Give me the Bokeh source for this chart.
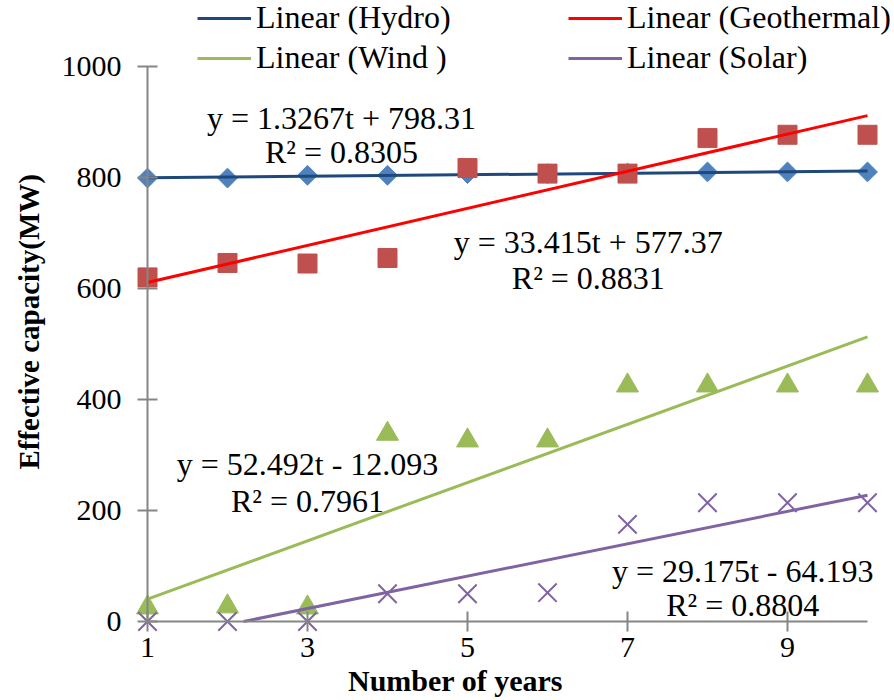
import math
from bokeh.plotting import figure
from bokeh.models import Range1d, FixedTicker, Legend, LegendItem, Label
from bokeh.embed import file_html
from bokeh.resources import INLINE

# ---- data ----
years = [1, 2, 3, 4, 5, 6, 7, 8, 9, 10]
hydro = [799, 799, 804, 804, 807, 807, 808, 810, 810, 810]
geothermal = [620, 646, 645, 655, 817, 807, 807, 871, 877, 877]
wind = [25, 27, 25, 338, 326, 326, 425, 425, 425, 425]
solar = [0, 0, 0, 50, 50, 52, 175, 214, 214, 214]

# trendline coefficients (y = a t + b) and R^2 as printed on the chart
trend_a = [1.3267, 33.415, 52.492, 29.175]
trend_b = [798.31, 577.37, -12.093, -64.193]
eq_text = ["y = 1.3267t + 798.31", "y = 33.415t + 577.37",
           "y = 52.492t - 12.093", "y = 29.175t - 64.193"]
r2_text = ["R² = 0.8305", "R² = 0.8831", "R² = 0.7961", "R² = 0.8804"]
legend_labels = ["Linear (Hydro)", "Linear (Geothermal)", "Linear (Wind )", "Linear (Solar)"]
x_ticks = [1, 3, 5, 7, 9]
y_ticks = [0, 200, 400, 600, 800, 1000]

FONT = "Liberation Serif"
AXIS_GRAY = "#868686"

# frame spans the whole canvas; axes are pinned at t=1 and y=0
p = figure(width=894, height=700, output_backend="svg", toolbar_location=None,
           x_range=Range1d(-0.8375, 10.3375), y_range=Range1d(-142.34, 1118.92),
           min_border_left=0, min_border_right=0, min_border_top=0, min_border_bottom=0)
p.outline_line_color = None
p.grid.visible = False
p.background_fill_color = "white"

for ax, ticks, loc, bnds, standoff in [(p.xaxis, x_ticks, 0, (1, 10), 6),
                                       (p.yaxis, y_ticks, 1, (0, 1000), 16)]:
    ax.ticker = FixedTicker(ticks=ticks)
    ax.fixed_location = loc
    ax.bounds = bnds
    ax.axis_line_color = AXIS_GRAY
    ax.axis_line_width = 2
    ax.major_tick_line_color = AXIS_GRAY
    ax.major_tick_line_width = 2
    ax.major_tick_in = 10
    ax.major_tick_out = 10
    ax.minor_tick_line_color = None
    ax.major_label_text_font = FONT
    ax.major_label_text_font_size = "30px"
    ax.major_label_text_color = "black"
    ax.major_label_standoff = standoff

series = [hydro, geothermal, wind, solar]
marker_kw = [
    dict(marker="square", size=14, angle=math.pi / 4, color="#4F81BD"),
    dict(marker="square", size=19, color="#C0504D"),
    dict(marker="triangle", size=22, color="#9BBB59"),
    dict(marker="x", size=26, line_color="#8064A2", line_width=2),
]
trend_colors = ["#1F497D", "#FF0000", "#9BBB59", "#8064A2"]
trend_renderers = []
for vals, mk, col, a, b in zip(series, marker_kw, trend_colors, trend_a, trend_b):
    p.scatter(years, vals, **mk)
    t0 = years[0]
    if a * t0 + b < 0:
        t0 = -b / a
    t1 = years[-1]
    r = p.line([t0, t1], [a * t0 + b, a * t1 + b], line_color=col, line_width=3)
    trend_renderers.append(r)

# equation labels (centre positions in data units)
eq_pos = [(3.425, 908.1, 846.8), (6.51, 682.9, 619.8), (3.0, 282.9, 218.0), (8.44, 90.1, 30.6)]
for (x, y1, y2), e, r2 in zip(eq_pos, eq_text, r2_text):
    for yy, txt in [(y1, e), (y2, r2)]:
        p.add_layout(Label(x=x, y=yy, text=txt, text_align="center", text_baseline="middle",
                           text_font=FONT, text_font_size="32px", text_color="black"))

# axis titles
p.add_layout(Label(x=-0.481, y=540, text="Effective capacity(MW)", angle=math.pi / 2,
                   text_align="center", text_baseline="middle", text_font=FONT,
                   text_font_size="29px", text_font_style="bold", text_color="black"))
p.add_layout(Label(x=4.85, y=-106, text="Number of years",
                   text_align="center", text_baseline="middle", text_font=FONT,
                   text_font_size="30px", text_font_style="bold", text_color="black"))

# legend: two rows of two items
for row, vy in [(0, 664), (1, 624)]:
    items = [LegendItem(label=legend_labels[2 * row + k], renderers=[trend_renderers[2 * row + k]])
             for k in range(2)]
    leg = Legend(items=items, orientation="horizontal", location=(197, vy),
                 label_text_font=FONT, label_text_font_size="32px", label_text_color="black",
                 glyph_width=54, glyph_height=36, label_height=36, label_width=200,
                 label_standoff=5, spacing=112, padding=0, margin=0,
                 border_line_color=None, background_fill_alpha=0)
    p.add_layout(leg)

open("out.html", "w").write(file_html(p, INLINE))
